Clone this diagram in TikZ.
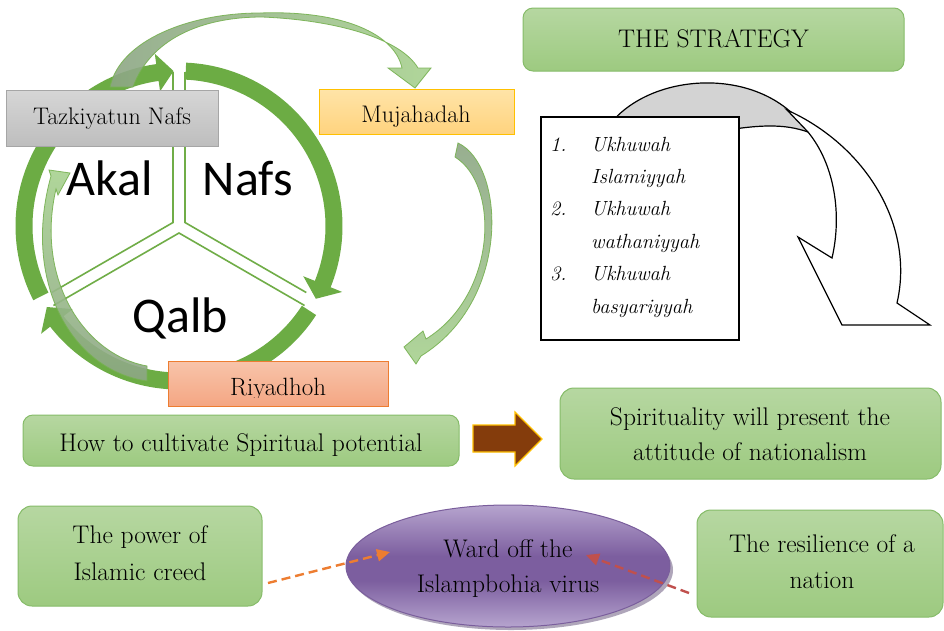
\documentclass[tikz,border=0pt]{standalone}
\usepackage{fontspec}
\newfontfamily\calibrifont{Carlito}
\usetikzlibrary{calc,arrows.meta,shapes.geometric}
\definecolor{ringg}{HTML}{6CAC44}
\definecolor{spokeg}{HTML}{70AD47}
\definecolor{boxtop}{HTML}{B6D7A1}
\definecolor{boxbot}{HTML}{9DCA80}
\definecolor{boxline}{HTML}{86BC69}
\definecolor{ovlight}{HTML}{A8D290}
\definecolor{ovgray}{HTML}{8DA685}
\definecolor{ovline}{HTML}{76B150}
\definecolor{graytop}{HTML}{D6D6D6}
\definecolor{graybot}{HTML}{BEBEBE}
\definecolor{grayline}{HTML}{A6A6A6}
\definecolor{oratop}{HTML}{FFE4A8}
\definecolor{orabot}{HTML}{FFD37E}
\definecolor{oraline}{HTML}{FFC000}
\definecolor{saltop}{HTML}{F8C4AA}
\definecolor{salbot}{HTML}{F4A683}
\definecolor{salline}{HTML}{ED7D31}
\definecolor{brownarr}{HTML}{843C0C}
\definecolor{purl}{HTML}{B6A4CE}
\definecolor{purd}{HTML}{7C5E9F}
\definecolor{purline}{HTML}{7A5E9C}
\definecolor{purshadow}{HTML}{4E3A68}
\definecolor{dashor}{HTML}{ED7D31}
\definecolor{dashred}{HTML}{C0504D}
\definecolor{stratgray}{HTML}{D3D3D3}
\pgfdeclareverticalshading{purpsh}{100bp}{color(0bp)=(purl); color(25bp)=(purl); color(44bp)=(purd); color(54bp)=(purd); color(75bp)=(purl); color(100bp)=(purl)}
\tikzset{
  gbox/.style={draw=boxline, line width=1pt, top color=boxtop, bottom color=boxbot, rounded corners=10pt, inner sep=0pt},
  t23/.style={font=\fontsize{25.5}{30}\selectfont, anchor=base, inner sep=0pt},
  t21/.style={font=\fontsize{24}{28}\selectfont, anchor=base, inner sep=0pt},
  litem/.style={font=\itshape\fontsize{20.5}{24}\selectfont, anchor=base west, inner sep=0pt},
  bigword/.style={font=\calibrifont\fontsize{50}{60}\selectfont, anchor=base, inner sep=0pt},
  spoke/.style={draw=spokeg, line width=1.6pt},
  ovarrow/.style={draw=ovline, line width=0.8pt, opacity=0.9},
  dasharrow/.style={line width=2.4pt, dash pattern=on 9pt off 5pt, -{Triangle[length=13pt,width=12pt]}}
}
\begin{document}
\begin{tikzpicture}[x=1pt,y=-1pt]
\useasboundingbox (0,0) rectangle (944,630);
\fill[white] (0,0) rectangle (944,630);

% ---------- ring of three arrows ----------
\begin{scope}[shift={(179,226)}]
\fill[ringg] (-87.5:163.5) arc[start angle=-87.5,end angle=22,radius=163.5] -- (22:176) -- (28:155) -- (22:134) -- (22:146.5) arc[start angle=22,end angle=-87.5,radius=146.5] -- cycle;
\fill[ringg] (33:163.5) arc[start angle=33,end angle=142,radius=163.5] -- (142:175) -- (148.5:155) -- (142:135) -- (142:146.5) arc[start angle=142,end angle=33,radius=146.5] -- cycle;
\fill[ringg] (153:163.5) arc[start angle=153,end angle=262,radius=163.5] -- (262:174) -- (268:155) -- (262:136) -- (262:146.5) arc[start angle=262,end angle=153,radius=146.5] -- cycle;
\end{scope}

% spokes
\draw[spoke] (173,72) -- (173,222.5) -- ++(150:140);
\draw[spoke] (185,72) -- (185,222.5) -- ++(30:140);
\draw[spoke] (179,233) ++(150:145) -- (179,233) -- ++(30:145);

\node[bigword] (akal) at (110,195) {Akal};
\node[bigword] (nafs) at (248,195) {Nafs};
\node[bigword] (qalb) at (180.5,332) {Qalb};

% left overlay arrow (Riyadhoh -> Akal)
\path[ovarrow, top color=ovlight, bottom color=ovgray]
  (147,381) .. controls (70,370) and (22,280) .. (51,176) -- (49,170) -- (70,173) -- (58,195) -- (56,189)
  .. controls (35,280) and (85,355) .. (147,366) -- cycle;

% boxes of the cycle
\node[draw=grayline, line width=1pt, top color=graytop, bottom color=graybot, minimum width=212pt, minimum height=56pt, inner sep=0pt] (tazk) at (112,118) {};
\node[t21] (tazkt) at (112,124) {Tazkiyatun Nafs};
\node[draw=oraline, line width=1pt, top color=oratop, bottom color=orabot, minimum width=195pt, minimum height=45pt, inner sep=0pt] (muja) at (416.5,111.5) {};
\node[t21] (mujat) at (416,122) {Mujahadah};
\node[draw=salline, line width=1pt, top color=saltop, bottom color=salbot, minimum width=220pt, minimum height=45pt, inner sep=0pt] (riya) at (278,383.5) {};
\begin{scope}
\clip (168,361) rectangle (388,397);
\node[t21, font=\fontsize{25}{29}\selectfont] (riyat) at (278,395) {Riyadhoh};
\end{scope}

% top overlay arrow (Tazkiyatun -> Mujahadah)
\path[ovarrow, left color=ovgray, right color=ovlight]
  (110,87) .. controls (120,40) and (190,13) .. (260,13)
  .. controls (345,10) and (395,35) .. (402,68)
  -- (388,68) -- (415,88) -- (431,68) -- (418,68)
  .. controls (400,38) and (335,20) .. (262,17)
  .. controls (200,17) and (150,40) .. (133,87) -- cycle;

% right overlay arrow (Mujahadah -> Riyadhoh)
\path[ovarrow, top color=ovgray, bottom color=ovlight]
  (458,143) .. controls (505,165) and (512,300) .. (421,356)
  -- (416,364) -- (404,347) -- (423,331) -- (426,339)
  .. controls (497,295) and (500,185) .. (455,157) -- cycle;

% ---------- the strategy ----------
\node[gbox, minimum width=381pt, minimum height=63pt] (strat) at (713.5,39.5) {};
\node[t23] (stratt) at (713.5,47) {THE STRATEGY};

\path[draw=black, line width=1.2pt, fill=stratgray]
  (598,145) .. controls (626,72) and (760,58) .. (808,132)
  .. controls (785,124) and (760,123) .. (700,135) -- cycle;
\path[draw=black, line width=1.2pt, fill=white]
  (787,110) .. controls (865,145) and (915,225) .. (897,303)
  -- (930,325) -- (842,325) -- (798,237) -- (832,258)
  .. controls (842,215) and (835,165) .. (808,132) -- cycle;

\node[draw=black, line width=1.4pt, fill=white, minimum width=198pt, minimum height=223pt, inner sep=0pt] (list) at (640,228.5) {};
\node[litem] (n1) at (550,151) {1.};
\node[litem] (i1a) at (591,151) {Ukhuwah};
\node[litem] (i1b) at (591,183) {Islamiyyah};
\node[litem] (n2) at (550,215) {2.};
\node[litem] (i2a) at (591,215) {Ukhuwah};
\node[litem] (i2b) at (591,248) {wathaniyyah};
\node[litem] (n3) at (550,280) {3.};
\node[litem] (i3a) at (591,280) {Ukhuwah};
\node[litem] (i3b) at (591,313) {basyariyyah};

% ---------- middle row ----------
\node[gbox, minimum width=436pt, minimum height=51pt] (how) at (241,440.5) {};
\node[t23] (howt) at (241,451) {How to cultivate Spiritual potential};
\node[gbox, rounded corners=14pt, minimum width=381pt, minimum height=91pt] (spirit) at (750.5,433.5) {};
\node[t23] (spirit1) at (750,425) {Spirituality will present the};
\node[t23] (spirit2) at (750,460) {attitude of nationalism};
\path[fill=brownarr, draw=oraline, line width=1.2pt]
  (473,425) -- (515,425) -- (515,412) -- (542,439) -- (515,466) -- (515,452) -- (473,452) -- cycle;

% ---------- bottom row ----------
\node[gbox, rounded corners=14pt, minimum width=244pt, minimum height=100pt] (power) at (140,556) {};
\node[t23] (power1) at (140,543) {The power of};
\node[t23] (power2) at (140,580) {Islamic creed};
\node[gbox, rounded corners=14pt, minimum width=246pt, minimum height=107pt] (resil) at (820,563.5) {};
\node[t23] (resil1) at (822,552) {The resilience of a};
\node[t23] (resil2) at (822,588) {nation};

\fill[purshadow, opacity=0.45] (511,570) ellipse[x radius=162, y radius=60];
\node[ellipse, draw=purline, line width=1pt, shading=purpsh, minimum width=324pt, minimum height=122pt, inner sep=0pt] (ward) at (508,566) {};
\node[t23] (ward1) at (508,557) {Ward off the};
\node[t23] (ward2) at (508,592) {Islampbohia virus};

\coordinate (d1s) at (268,583);
\coordinate (d1e) at (390,552);
\coordinate (d2s) at (689,593);
\coordinate (d2e) at (586,555);
\draw[dasharrow, dashor] (d1s) -- (d1e);
\draw[dasharrow, dashred] (d2s) -- (d2e);
\end{tikzpicture}
\end{document}
